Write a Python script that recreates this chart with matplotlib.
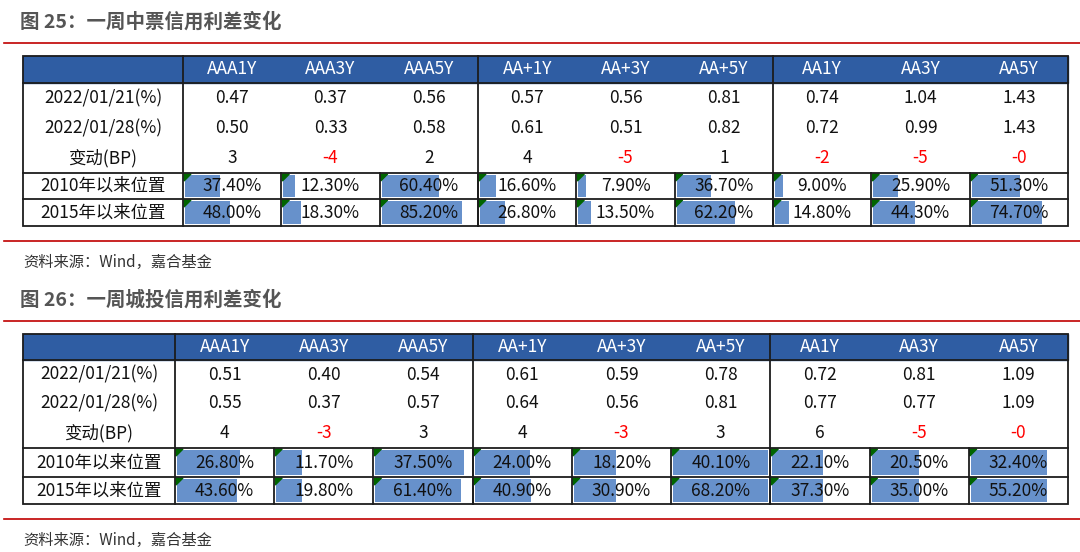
import matplotlib.pyplot as plt
from matplotlib.patches import Rectangle, Polygon

plt.rcParams['font.family'] = ['Noto Sans CJK SC', 'DejaVu Sans']

# 数据
cols = ['AAA1Y', 'AAA3Y', 'AAA5Y', 'AA+1Y', 'AA+3Y', 'AA+5Y', 'AA1Y', 'AA3Y', 'AA5Y']
row_labels = ['2022/01/21(%)', '2022/01/28(%)', '变动(BP)', '2010年以来位置', '2015年以来位置']

# 图25 中票
mtn_0121 = [0.47, 0.37, 0.56, 0.57, 0.56, 0.81, 0.74, 1.04, 1.43]
mtn_0128 = [0.50, 0.33, 0.58, 0.61, 0.51, 0.82, 0.72, 0.99, 1.43]
mtn_chg = ['3', '-4', '2', '4', '-5', '1', '-2', '-5', '-0']
mtn_2010 = [37.4, 12.3, 60.4, 16.6, 7.9, 36.7, 9.0, 25.9, 51.3]
mtn_2015 = [48.0, 18.3, 85.2, 26.8, 13.5, 62.2, 14.8, 44.3, 74.7]

# 图26 城投
ct_0121 = [0.51, 0.40, 0.54, 0.61, 0.59, 0.78, 0.72, 0.81, 1.09]
ct_0128 = [0.55, 0.37, 0.57, 0.64, 0.56, 0.81, 0.77, 0.77, 1.09]
ct_chg = ['4', '-3', '3', '4', '-3', '3', '6', '-5', '-0']
ct_2010 = [26.8, 11.7, 37.5, 24.0, 18.2, 40.1, 22.1, 20.5, 32.4]
ct_2015 = [43.6, 19.8, 61.4, 40.9, 30.9, 68.2, 37.3, 35.0, 55.2]

HEAD = '#2F5DA3'
BAR = '#6791CB'
LINE = '#1c1c1c'
RED = '#C00000'

fig = plt.figure(figsize=(10.8, 5.52), dpi=100)
ax = fig.add_axes([0, 0, 1, 1])
ax.set_xlim(0, 1080)
ax.set_ylim(552, 0)
ax.axis('off')


def bar_len(vals, full, mode):
    # 表1按0-100%比例，表2按每行最小-最大
    if mode == 'abs':
        return [v / 100 * full for v in vals]
    lo, hi = min(vals), max(vals)
    base = 0.27 * full
    return [base + (v - lo) / (hi - lo) * (full - base) for v in vals]


def draw_table(left, c0, right, edges, r1, r2, chg, p10, p15, mode):
    n = len(cols)
    w = (right - c0) / n
    xs = [c0 + i * w for i in range(n + 1)]
    top, bottom = edges[0], edges[-1]
    # 表头
    ax.add_patch(Rectangle((left, top), right - left, edges[1] - top, color=HEAD, zorder=1))
    for i, c in enumerate(cols):
        ax.text((xs[i] + xs[i + 1]) / 2, (top + edges[1]) / 2, c, color='white',
                fontsize=12.5, ha='center', va='center', zorder=3)
    # 行标签
    for j, lab in enumerate(row_labels):
        ax.text((left + c0) / 2, (edges[j + 1] + edges[j + 2]) / 2, lab, fontsize=12.5,
                ha='center', va='center', color='#111111', zorder=3)
    for i in range(n):
        cx = (xs[i] + xs[i + 1]) / 2
        ax.text(cx, (edges[1] + edges[2]) / 2, f'{r1[i]:.2f}', fontsize=12.5,
                ha='center', va='center', color='#111111', zorder=3)
        ax.text(cx, (edges[2] + edges[3]) / 2, f'{r2[i]:.2f}', fontsize=12.5,
                ha='center', va='center', color='#111111', zorder=3)
        ax.text(cx, (edges[3] + edges[4]) / 2, chg[i], fontsize=12.5, ha='center', va='center',
                color='#FF0000' if chg[i].startswith('-') else '#111111', zorder=3)
    # 数据条
    full = w - 4
    for k, vals in enumerate([p10, p15]):
        y0, y1 = edges[4 + k], edges[5 + k]
        lens = bar_len(vals, full, mode)
        ax.barh([(y0 + y1) / 2] * n, lens, left=[x + 2 for x in xs[:-1]],
                height=(y1 - y0) - 4, color=BAR, zorder=2)
        for i in range(n):
            ax.text((xs[i] + xs[i + 1]) / 2, (y0 + y1) / 2, f'{vals[i]:.2f}%', fontsize=12.5,
                    ha='center', va='center', color='#111111', zorder=3)
            x0 = xs[i] + 1
            ax.add_patch(Polygon([(x0, y0 + 1), (x0 + 7, y0 + 1), (x0, y0 + 8)],
                                 color='#006400', zorder=4))
    # 线
    lw = 1.3
    ax.add_patch(Rectangle((left, top), right - left, bottom - top, fill=False,
                           ec=LINE, lw=lw, zorder=5))
    for y in [edges[1], edges[4], edges[5]]:
        ax.plot([left, right], [y, y], color=LINE, lw=lw, zorder=5)
    for x in [c0, xs[3], xs[6]]:
        ax.plot([x, x], [top, bottom], color=LINE, lw=lw, zorder=5)
    for x in xs[1:-1]:
        ax.plot([x, x], [edges[4], bottom], color=LINE, lw=lw, zorder=5)


def section(title, ty, line_y, foot_y, src_y):
    ax.text(20, ty, title, fontsize=14, fontweight='bold', color='#555555',
            ha='left', va='center')
    ax.plot([4, 1080], [line_y, line_y], color=RED, lw=1.2)
    ax.plot([4, 1080], [foot_y, foot_y], color=RED, lw=1.2)
    ax.text(23, src_y, '资料来源：Wind，嘉合基金', fontsize=11, color='#333333',
            ha='left', va='center')


section('图 25：一周中票信用利差变化', 22, 43, 241, 262)
draw_table(23, 183, 1068, [56, 83, 113, 143, 173, 199, 226],
           mtn_0121, mtn_0128, mtn_chg, mtn_2010, mtn_2015, 'abs')

section('图 26：一周城投信用利差变化', 300, 321, 519, 540)
draw_table(23, 175, 1068, [334, 360, 389, 418, 448, 477, 504],
           ct_0121, ct_0128, ct_chg, ct_2010, ct_2015, 'rel')

fig.savefig('out.png', dpi=100)
